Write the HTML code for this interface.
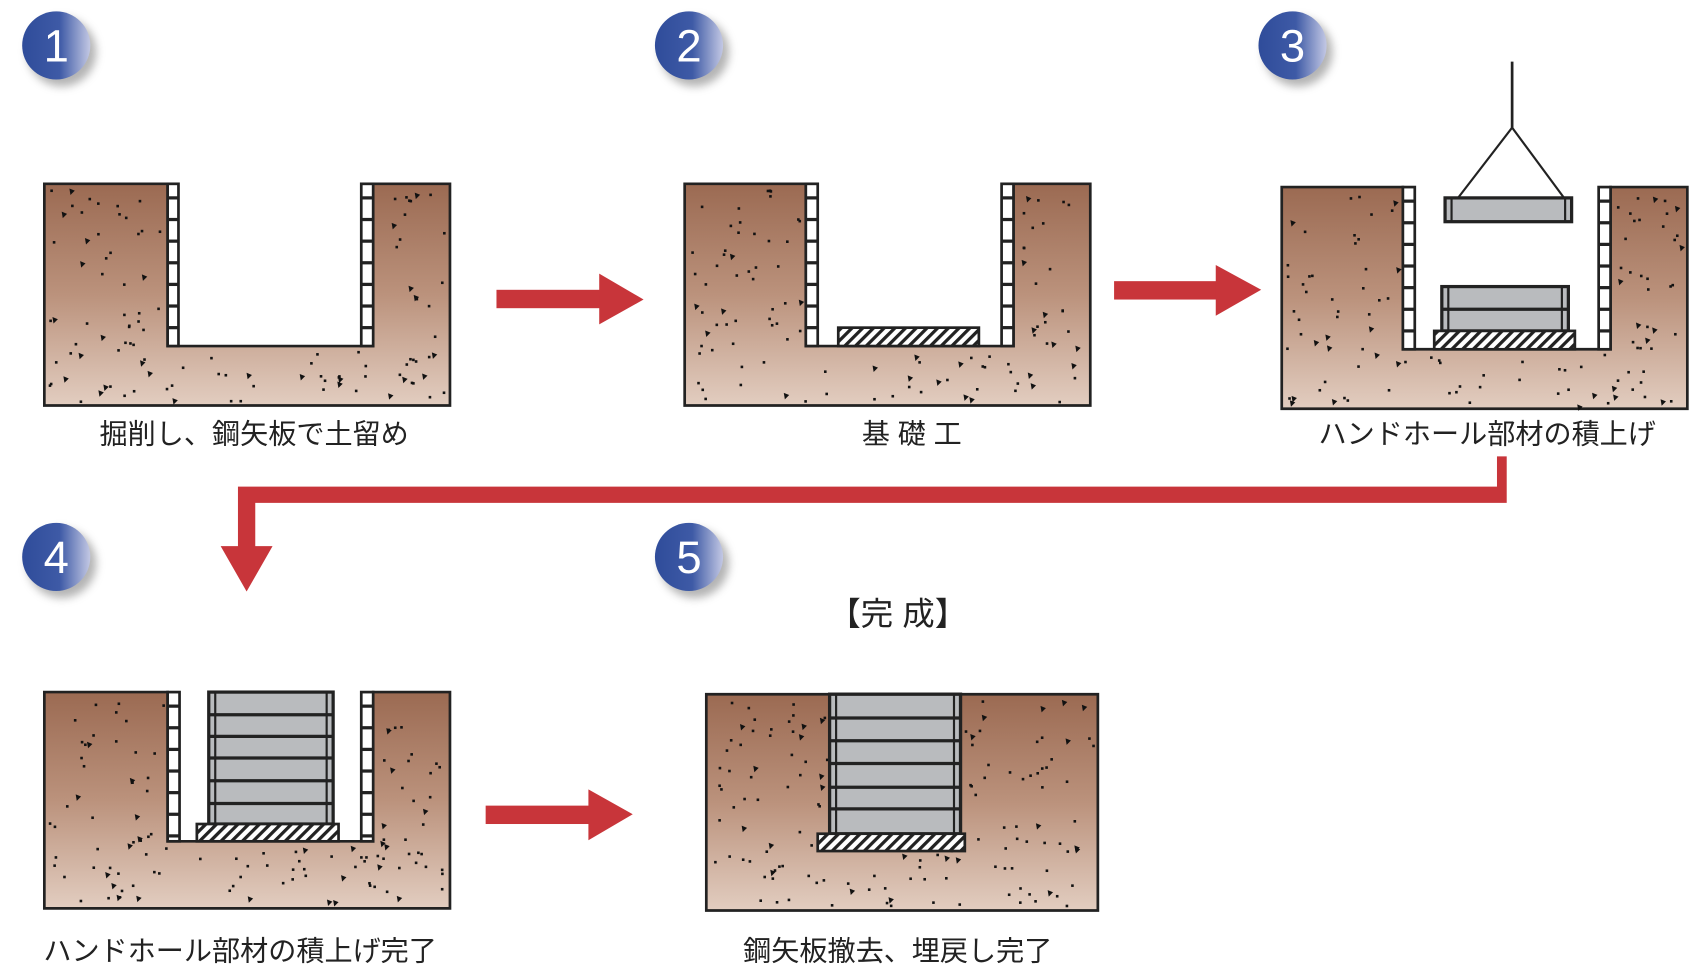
<!DOCTYPE html>
<html><head><meta charset="utf-8"><style>
html,body{margin:0;padding:0;background:#fff;}
svg{display:block}
text{font-family:"Liberation Sans","Noto Sans CJK JP",sans-serif;}
</style></head><body>
<svg id="s" width="1696" height="970" viewBox="0 0 1568 897" preserveAspectRatio="none" xmlns="http://www.w3.org/2000/svg">
<defs>
<linearGradient id="soil" x1="0" y1="0" x2="0" y2="1">
<stop offset="0" stop-color="#9b6a52"/><stop offset="0.5" stop-color="#bb927c"/><stop offset="1" stop-color="#e2cdc0"/>
</linearGradient>
<linearGradient id="ball" x1="0" y1="0" x2="1" y2="0">
<stop offset="0" stop-color="#2f4c9a"/><stop offset="0.55" stop-color="#3e5aa6"/><stop offset="1" stop-color="#c3c8e4"/>
</linearGradient>
<pattern id="hatch" width="7" height="7" patternUnits="userSpaceOnUse" patternTransform="rotate(45)">
<rect width="7" height="7" fill="#fff"/><rect width="3" height="7" fill="#222"/>
</pattern>
<filter id="sh" x="-50%" y="-50%" width="200%" height="200%"><feGaussianBlur stdDeviation="4"/></filter>
</defs>
<g id="g"></g>
<g fill="#c8353a">
<rect x="459" y="268" width="97" height="17"/><polygon points="554,253 595,277 554,300"/>
<rect x="1030" y="260" width="96" height="17"/><polygon points="1124,245 1166,268 1124,292"/>
<polygon points="1384,422 1393,422 1393,465 236,465 236,505 252,505 228,547 204,505 220,505 220,450 1384,450"/>
<rect x="449" y="745" width="97" height="17"/><polygon points="544,730 585,753 544,777"/>
</g>
<g font-size="26" fill="#222" text-anchor="middle">
<text x="235" y="410">掘削し、鋼矢板で土留め</text>
<text x="843" y="410">基 礎 工</text>
<text x="1375" y="410">ハンドホール部材の積上げ</text>
<text x="830" y="578" font-size="30">【完 成】</text>
<text x="222" y="888">ハンドホール部材の積上げ完了</text>
<text x="830" y="888">鋼矢板撤去、埋戻し完了</text>
</g>
</svg>
<script>
(function(){
var NS="http://www.w3.org/2000/svg",g=document.getElementById("g"),h="";
var seed=7;function r(){seed=(seed*16807)%2147483647;return seed/2147483647;}
function soil(x,y,w,ht,cut){ // cut: [x1,x2,ybot] region removed from top
 var p;
 if(cut){p='M'+x+','+y+' H'+cut[0]+' V'+cut[2]+' H'+cut[1]+' V'+y+' H'+(x+w)+' V'+(y+ht)+' H'+x+' Z';}
 else p='M'+x+','+y+' h'+w+' v'+ht+' h'+(-w)+' Z';
 h+='<path d="'+p+'" fill="url(#soil)" stroke="#222" stroke-width="2.5"/>';
 for(var i=0;i<Math.round(w*ht/420);i++){
  var px=x+4+r()*(w-8),py=y+4+r()*(ht-8);
  if(cut&&px>cut[0]-4&&px<cut[1]+4&&py<cut[2]+4)continue;
  if(r()<0.8)h+='<rect x="'+px.toFixed(1)+'" y="'+py.toFixed(1)+'" width="2.4" height="2.4" fill="#111"/>';
  else h+='<polygon points="'+px+','+py+' '+(px+5)+','+(py+2)+' '+(px+1)+','+(py+6)+'" fill="#111"/>';
 }
}
function pile(x,y,w,ht){
 h+='<rect x="'+x+'" y="'+y+'" width="'+w+'" height="'+ht+'" fill="#fff" stroke="#222" stroke-width="2.5"/>';
 for(var yy=y+13;yy<y+ht-4;yy+=20)h+='<line x1="'+x+'" x2="'+(x+w)+'" y1="'+yy+'" y2="'+yy+'" stroke="#222" stroke-width="3"/>';
}
function found(x,y,w,ht){h+='<rect x="'+x+'" y="'+y+'" width="'+w+'" height="'+ht+'" fill="url(#hatch)" stroke="#222" stroke-width="2.5"/>';}
function stack(x,y,w,lines,bot){
 h+='<rect x="'+x+'" y="'+y+'" width="'+w+'" height="'+(bot-y)+'" fill="#b9bbbe" stroke="#222" stroke-width="3"/>';
 h+='<line x1="'+(x+6)+'" x2="'+(x+6)+'" y1="'+y+'" y2="'+bot+'" stroke="#222" stroke-width="2"/>';
 h+='<line x1="'+(x+w-6)+'" x2="'+(x+w-6)+'" y1="'+y+'" y2="'+bot+'" stroke="#222" stroke-width="2"/>';
 lines.forEach(function(l){h+='<line x1="'+x+'" x2="'+(x+w)+'" y1="'+l+'" y2="'+l+'" stroke="#222" stroke-width="3"/>';});
}
// panel 1
soil(41,170,375,205,[155,345,320]);pile(155,170,10,150);pile(334,170,11,150);
// panel 2
soil(633,170,375,205,[745,937,320]);pile(745,170,11,150);pile(926,170,11,150);found(775,303,130,17);
// panel 3
soil(1185,173,375,205,[1297,1489,323]);pile(1297,173,11,150);pile(1478,173,11,150);
stack(1333,265,117,[286],306);found(1326,306,130,17);
stack(1336,183,117,[],205);
h+='<polyline points="1348,183 1398,118 1446,183" fill="none" stroke="#222" stroke-width="2"/><line x1="1398" y1="57" x2="1398" y2="118" stroke="#222" stroke-width="2.5"/>';
// panel 4
soil(41,640,375,200,[155,345,778]);pile(155,640,11,138);pile(334,640,11,138);
stack(193,640,115,[661,681,701,722,743],762);found(182,762,131,16);
// panel 5
soil(653,642,362,200,null);
h+='<rect x="767" y="642" width="121" height="129" fill="#b9bbbe" stroke="#222" stroke-width="3"/>';
stack(767,642,121,[664,685,706,728,748],771);found(756,771,136,16);
// circles
[[52,42,'1'],[637,42,'2'],[1195,42,'3'],[52,515,'4'],[637,515,'5']].forEach(function(c){
 h+='<circle cx="'+(c[0]+5)+'" cy="'+(c[1]+6)+'" r="32" fill="#777" opacity="0.55" filter="url(#sh)"/>';
 h+='<circle cx="'+c[0]+'" cy="'+c[1]+'" r="31.5" fill="url(#ball)"/>';
 h+='<text x="'+c[0]+'" y="'+(c[1]+15)+'" font-size="42" fill="#fff" text-anchor="middle" font-family="Liberation Sans,sans-serif">'+c[2]+'</text>';
});
g.innerHTML=h;
})();
</script>
</body></html>
